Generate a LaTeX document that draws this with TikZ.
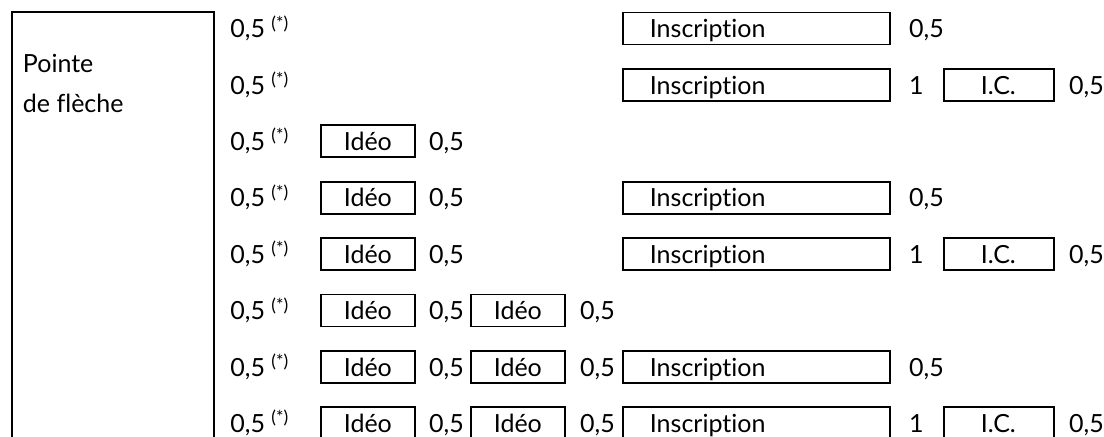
\documentclass[tikz,border=0pt]{standalone}
\usepackage{fontspec}
\setmainfont{Lato}[Ligatures=NoCommon]
\usepackage{tikz}
\usetikzlibrary{positioning}
\tikzstyle{val}  = [inner sep=0pt, text height=9.3pt, text depth=0pt, anchor=west]
\tikzstyle{cell} = [draw=black, line width=0.9pt, inner sep=0pt, text height=9.3pt, text depth=0pt, minimum height=16pt, anchor=west]
\tikzstyle{ideo} = [cell, minimum width=47pt]
\tikzstyle{insc} = [cell, inner xsep=13.5pt, text width=106.5pt, align=left]
\tikzstyle{ic}   = [cell, inner xsep=18.5pt, text width=18pt, align=left]

\begin{document}
\begin{tikzpicture}[x=1pt, y=-1pt]
		\tikzstyle{every node}=[font=\fontsize{12.5pt}{20pt}\selectfont]
		\useasboundingbox (0,0) rectangle (552,218.5);

		% left frame, open at the bottom
		\draw[line width=1.4pt] (6,222) -- (6,6) -- (107,6) -- (107,222);
		\node[align=left, anchor=north west, inner sep=0pt] (title) at (11.3,27) {Pointe\\de flèche};

		\foreach \r in {1,...,8}
			\node[val] (lead\r) at (115,{14.25+28.2*(\r-1)}) {0,5 \textsuperscript{(*)}};

		\foreach \r in {3,...,8} {
				\node[ideo] (ideoa\r) at (160,{14.25+28.2*(\r-1)}) {Idéo};
				\node[val, right=6.5pt of ideoa\r] (va\r) {0,5};
			}
		\foreach \r in {6,7,8} {
				\node[ideo] (ideob\r) at (235,{14.25+28.2*(\r-1)}) {Idéo};
				\node[val, right=7pt of ideob\r] (vb\r) {0,5};
			}
		\foreach \r/\v in {1/{0,5},2/1,4/{0,5},5/1,7/{0,5},8/1} {
				\node[insc] (insc\r) at (311,{14.25+28.2*(\r-1)}) {Inscription};
				\node[val, right=9pt of insc\r] (vi\r) {\v};
			}
		\foreach \r in {2,5,8} {
				\node[ic] (ic\r) at (471.5,{14.25+28.2*(\r-1)}) {I.C.};
				\node[val, right=7pt of ic\r] (vc\r) {0,5};
			}
	\end{tikzpicture}
\end{document}
